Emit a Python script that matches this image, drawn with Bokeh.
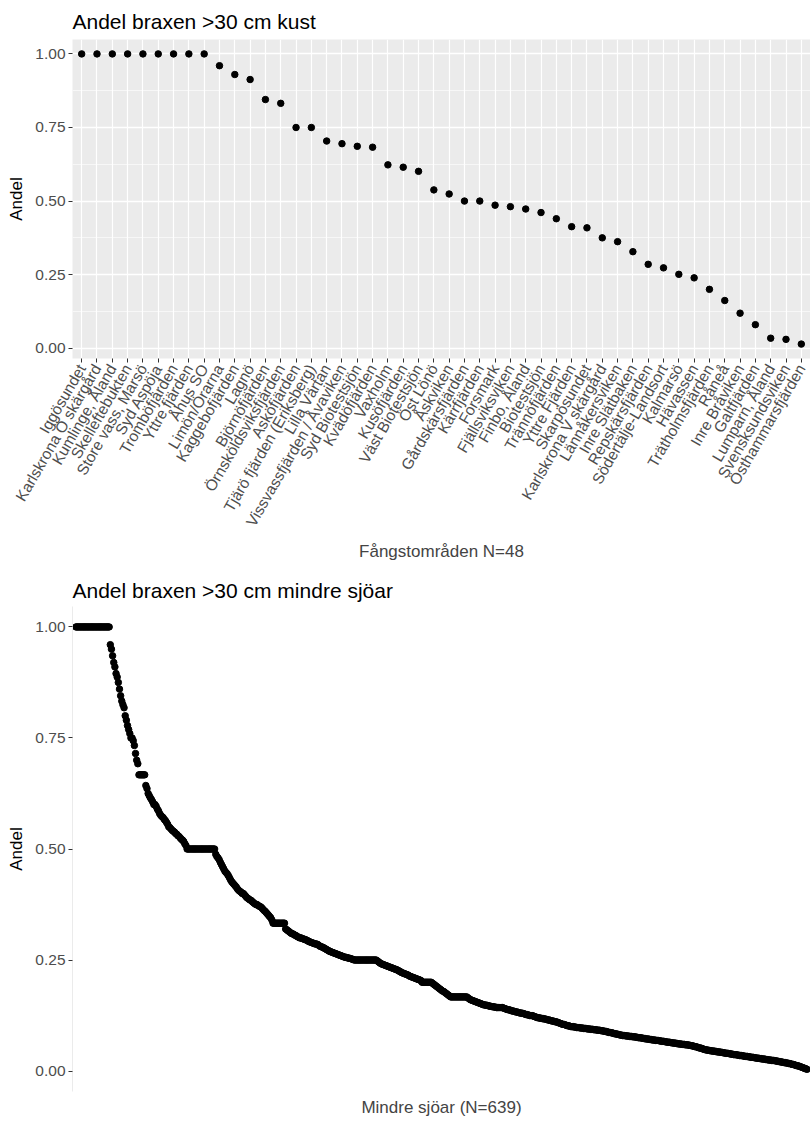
from bokeh.plotting import figure
from bokeh.layouts import column
from bokeh.models import (Range1d, FixedTicker, PrintfTickFormatter,
                          AllLabels, ColumnDataSource)
from bokeh.embed import file_html
from bokeh.resources import INLINE

# ---- Coastal fishing areas: share of bream > 30 cm ----
areas = [
    "Iggösundet", "Karlskrona Ö skärgård", "Kumlinge, Åland", "Skelleftebukten",
    "Store vass, Marsö", "Syd Aspöja", "Tromböfjärden", "Yttre fjärden", "Åhus SO",
    "Limön/Örarna", "Kaggebofjärden", "Lagnö", "Björnöfjärden", "Örnsköldsviksfjärden",
    "Asköfjärden", "Tjärö fjärden (Eriksberg)", "Lilla Värtan", "Vissvassfjärden / Åvaviken",
    "Syd Biotestsjön", "Kvädöfjärden", "Vaxholm", "Kusöfjärden", "Väst Biotestsjön",
    "Öst Lönö", "Åskviken", "Gårdskärsfjärden", "Kärrfjärden", "Forsmark",
    "Fjällsviksviken", "Finbo, Åland", "Biotestsjön", "Trännöfjärden", "Yttre Fjärden",
    "Skarpösundet", "Karlskrona V skärgård", "Lännåkersviken", "Inre Slätbaken",
    "Repskärsfjärden", "Södertälje-Landsort", "Kalmarsö", "Hävassen", "Trätholmsfjärden",
    "Råneå", "Inre Bråviken", "Galtfjärden", "Lumparn, Åland", "Svensksundsviken",
    "Östhammarsfjärden",
]
coast_share = [
    1.0, 1.0, 1.0, 1.0, 1.0, 1.0, 1.0, 1.0, 1.0,
    0.96, 0.93, 0.913, 0.845, 0.832, 0.75, 0.75, 0.704, 0.695, 0.686, 0.683,
    0.623, 0.615, 0.601, 0.538, 0.524, 0.50, 0.50, 0.486, 0.481, 0.473,
    0.461, 0.44, 0.413, 0.409, 0.375, 0.362, 0.328, 0.285, 0.273, 0.251,
    0.239, 0.20, 0.162, 0.119, 0.08, 0.034, 0.03, 0.014,
]

# ---- Smaller lakes: share of bream > 30 cm, sorted descending ----
lake_share = (
    [1.0] * 30
    + [0.96, 0.95, 0.935, 0.92, 0.91, 0.895, 0.887, 0.875, 0.86, 0.845,
       0.833, 0.825, 0.818, 0.80, 0.79, 0.778, 0.769, 0.76, 0.75, 0.75,
       0.744, 0.733, 0.715, 0.70, 0.692]
    + [0.667] * 6
    + [0.643, 0.636, 0.625, 0.62, 0.615, 0.611, 0.606, 0.6, 0.6, 0.596,
       0.59, 0.586, 0.58, 0.576, 0.573, 0.571, 0.567, 0.564, 0.56, 0.556,
       0.55, 0.548, 0.545, 0.542, 0.54, 0.538, 0.535, 0.533, 0.53, 0.528,
       0.525, 0.522, 0.52, 0.517, 0.512, 0.508]
    + [0.5] * 25
    + [0.488, 0.483, 0.48, 0.476, 0.47, 0.465, 0.46, 0.455, 0.45, 0.447,
       0.444, 0.44, 0.435, 0.43, 0.426, 0.423, 0.42, 0.417, 0.414, 0.41,
       0.407, 0.405, 0.403, 0.4, 0.4, 0.397, 0.394, 0.391, 0.389, 0.387,
       0.385, 0.384, 0.381, 0.379, 0.377, 0.375, 0.375, 0.373, 0.371, 0.37,
       0.368, 0.365, 0.362, 0.36, 0.357, 0.354, 0.351, 0.348, 0.345, 0.34]
    + [0.333] * 11
    + [0.32, 0.318, 0.316, 0.314, 0.312, 0.31, 0.309, 0.308, 0.306, 0.305,
       0.303, 0.302, 0.3, 0.3, 0.299, 0.298, 0.297, 0.296, 0.295, 0.294,
       0.292, 0.291, 0.29, 0.289, 0.288, 0.287, 0.286, 0.286, 0.285, 0.283,
       0.281, 0.28, 0.279, 0.278, 0.276, 0.275, 0.273, 0.272, 0.27, 0.269,
       0.268, 0.267, 0.266, 0.265, 0.264, 0.263, 0.262, 0.261, 0.26, 0.259,
       0.258, 0.257, 0.256, 0.256, 0.255, 0.254, 0.254, 0.253, 0.252, 0.251]
    + [0.25] * 20
    + [0.248, 0.246, 0.244, 0.242, 0.241, 0.24, 0.239, 0.238, 0.237, 0.236,
       0.235, 0.234, 0.233, 0.232, 0.231, 0.23, 0.229, 0.228, 0.227, 0.225,
       0.224, 0.222, 0.221, 0.22, 0.219, 0.218, 0.217, 0.216, 0.214, 0.213,
       0.212, 0.211, 0.21, 0.209, 0.208, 0.207, 0.206, 0.205, 0.204]
    + [0.2] * 9
    + [0.198, 0.196, 0.194, 0.192, 0.19, 0.188, 0.186, 0.184, 0.182, 0.18,
       0.179, 0.177, 0.175, 0.173, 0.171, 0.169]
    + [0.167] * 15
    + [0.165, 0.163, 0.161, 0.16, 0.159, 0.158, 0.157, 0.156, 0.155, 0.154,
       0.153, 0.152, 0.151, 0.15, 0.149, 0.149, 0.148, 0.148, 0.147, 0.146,
       0.146, 0.145, 0.145, 0.144, 0.144]
    + [0.143] * 6
    + [0.142, 0.141, 0.14, 0.139, 0.138, 0.138, 0.137, 0.136, 0.135, 0.135,
       0.134, 0.133, 0.133, 0.132, 0.131, 0.131, 0.13, 0.13, 0.129, 0.128,
       0.127, 0.127, 0.126, 0.125, 0.125, 0.125, 0.124, 0.123, 0.122, 0.121,
       0.12, 0.12, 0.119, 0.119, 0.118, 0.118, 0.117, 0.117, 0.116, 0.115,
       0.115, 0.114, 0.113, 0.113, 0.112, 0.111, 0.111, 0.11, 0.109, 0.108,
       0.107, 0.106, 0.105, 0.105, 0.104, 0.103, 0.102, 0.102, 0.101, 0.1,
       0.1, 0.1, 0.099, 0.099, 0.098, 0.098, 0.098, 0.097, 0.097, 0.097,
       0.096, 0.096, 0.096, 0.095, 0.095, 0.095]
    + [0.094, 0.094, 0.094, 0.093, 0.093, 0.093, 0.092, 0.092, 0.092, 0.091,
       0.091, 0.09, 0.09, 0.089, 0.089, 0.088, 0.087, 0.087, 0.086, 0.086,
       0.085, 0.084, 0.084, 0.083, 0.083, 0.082, 0.081, 0.081, 0.08, 0.08,
       0.08, 0.079, 0.079, 0.079, 0.078, 0.078, 0.078, 0.077, 0.077, 0.077,
       0.076, 0.076, 0.075, 0.075, 0.075, 0.074, 0.074, 0.073, 0.073, 0.072,
       0.072, 0.072, 0.071, 0.071, 0.07, 0.07, 0.07, 0.069, 0.069, 0.069,
       0.068, 0.068, 0.067, 0.067, 0.067, 0.066, 0.066, 0.065, 0.065, 0.065,
       0.064, 0.064, 0.063, 0.063, 0.063, 0.062, 0.062, 0.061, 0.061, 0.061,
       0.06, 0.06, 0.06, 0.059, 0.059, 0.059, 0.058, 0.058, 0.057]
    + [0.057, 0.056, 0.055, 0.055, 0.054, 0.053, 0.052, 0.052, 0.051, 0.05,
       0.049, 0.048, 0.048, 0.047, 0.047, 0.046, 0.046, 0.045, 0.045, 0.045,
       0.044, 0.044, 0.043, 0.043, 0.043, 0.042, 0.042, 0.041, 0.041, 0.04,
       0.04, 0.04, 0.039, 0.039, 0.038, 0.038, 0.037, 0.037, 0.037, 0.036,
       0.036, 0.035, 0.035, 0.035, 0.034, 0.034, 0.033, 0.033, 0.033, 0.032,
       0.032, 0.031, 0.031, 0.031, 0.03, 0.03, 0.029, 0.029, 0.029, 0.028,
       0.028, 0.027, 0.027, 0.027, 0.026, 0.026, 0.025, 0.025, 0.025, 0.024,
       0.024, 0.024, 0.023, 0.023, 0.022, 0.022, 0.021, 0.021, 0.02, 0.02,
       0.019, 0.019, 0.018, 0.018, 0.017, 0.017, 0.016, 0.015, 0.015, 0.014,
       0.013, 0.012, 0.012, 0.011, 0.01, 0.009, 0.008, 0.007, 0.006, 0.005,
       0.004]
)

y_ticks = [0.0, 0.25, 0.5, 0.75, 1.0]
y_minor = [0.125, 0.375, 0.625, 0.875]

FONT = "Liberation Sans"
TICK_GREY = "#4D4D4D"


def style_y_axis(ax):
    ax.ticker = FixedTicker(ticks=y_ticks, minor_ticks=y_minor)
    ax.formatter = PrintfTickFormatter(format="%.2f")
    ax.major_label_text_font = FONT
    ax.major_label_text_font_size = "15.5px"
    ax.major_label_text_color = TICK_GREY
    ax.major_tick_line_color = "#333333"
    ax.major_tick_out = 4
    ax.major_tick_in = 0
    ax.minor_tick_line_color = None
    ax.major_label_standoff = 3
    ax.axis_label = "Andel"
    ax.axis_label_text_font = FONT
    ax.axis_label_text_font_size = "17px"
    ax.axis_label_text_font_style = "normal"
    ax.axis_label_text_color = "black"
    ax.axis_label_standoff = 6


def style_title(t, standoff):
    t.text_font = FONT
    t.text_font_size = "21px"
    t.text_font_style = "normal"
    t.text_color = "black"
    t.align = "left"
    t.standoff = standoff


# ---------------- top panel ----------------
n_areas = len(areas)
x_pos = list(range(1, n_areas + 1))
src_top = ColumnDataSource(dict(x=x_pos, y=coast_share))

p1 = figure(width=810, height=565, output_backend="svg", toolbar_location=None,
            x_range=Range1d(0.4, n_areas + 0.6), y_range=Range1d(-0.035, 1.049),
            min_border_left=72, min_border_right=0, min_border_top=39,
            min_border_bottom=207)
p1.background_fill_color = "#EBEBEB"
p1.border_fill_color = "white"
p1.outline_line_color = None

p1.title.text = "Andel braxen >30 cm kust"
style_title(p1.title, 13)

xa = p1.xaxis[0]
xa.ticker = FixedTicker(ticks=x_pos)
xa.major_label_overrides = {i: name for i, name in zip(x_pos, areas)}
xa.major_label_orientation = 1.0472
xa.major_label_policy = AllLabels()
xa.major_label_text_font = FONT
xa.major_label_text_font_size = "15.5px"
xa.major_label_text_color = TICK_GREY
xa.major_label_standoff = 3
xa.major_tick_line_color = "#333333"
xa.major_tick_out = 4
xa.major_tick_in = 0
xa.minor_tick_line_color = None
xa.axis_line_color = None
xa.axis_label = "Fångstområden N=48"
xa.axis_label_text_font = FONT
xa.axis_label_text_font_size = "17px"
xa.axis_label_text_font_style = "normal"
xa.axis_label_standoff = 6

style_y_axis(p1.yaxis[0])
p1.yaxis[0].axis_line_color = None

p1.xgrid.ticker = FixedTicker(ticks=x_pos)
p1.xgrid.grid_line_color = "white"
p1.xgrid.grid_line_width = 1.2
p1.ygrid.ticker = FixedTicker(ticks=y_ticks, minor_ticks=y_minor)
p1.ygrid.grid_line_color = "white"
p1.ygrid.grid_line_width = 1.3
p1.ygrid.minor_grid_line_color = "white"
p1.ygrid.minor_grid_line_width = 0.6

p1.scatter("x", "y", source=src_top, size=6.5, color="black")

# ---------------- bottom panel ----------------
n_lakes = len(lake_share)
lake_idx = list(range(1, n_lakes + 1))
src_bot = ColumnDataSource(dict(x=lake_idx, y=lake_share))

p2 = figure(width=810, height=557, output_backend="svg", toolbar_location=None,
            x_range=Range1d(-2, n_lakes + 3), y_range=Range1d(-0.046, 1.046),
            min_border_left=72, min_border_right=0, min_border_top=41,
            min_border_bottom=31)
p2.background_fill_color = "white"
p2.border_fill_color = "white"
p2.outline_line_color = None
p2.grid.visible = False

p2.title.text = "Andel braxen >30 cm mindre sjöar"
style_title(p2.title, 10)

style_y_axis(p2.yaxis[0])
p2.yaxis[0].axis_line_color = "#EBEBEB"

xb = p2.xaxis[0]
xb.ticker = FixedTicker(ticks=[])
xb.major_tick_line_color = None
xb.minor_tick_line_color = None
xb.axis_line_color = None
xb.major_label_text_font_size = "0px"
xb.axis_label = "Mindre sjöar (N=639)"
xb.axis_label_text_font = FONT
xb.axis_label_text_font_size = "17px"
xb.axis_label_text_font_style = "normal"
xb.axis_label_standoff = 6

p2.scatter("x", "y", source=src_bot, size=6.5, color="black")

layout = column(p1, p2, spacing=0)
open("out.html", "w").write(file_html(layout, INLINE))
